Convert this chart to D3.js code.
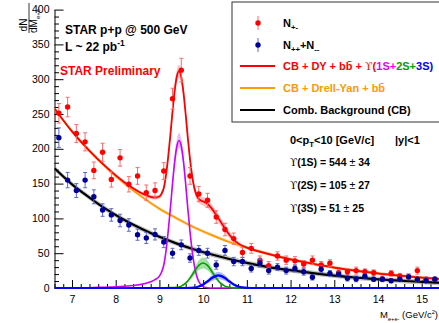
<!DOCTYPE html>
<html>
<head>
<meta charset="utf-8">
<script src="https://cdn.jsdelivr.net/npm/d3@7"></script>
<style>
body {margin:0; background:#fff;}
svg {display:block;}
svg text {font-family:"Liberation Sans", Arial, Helvetica, sans-serif; white-space:pre;}
</style>
</head>
<body>
<svg id="chart" width="439" height="323"></svg>
<script>
// dielectron invariant mass bins (GeV/c^2)
const massBins = [6.7, 6.9, 7.1, 7.3, 7.5, 7.7, 7.9, 8.1, 8.3, 8.5, 8.7, 8.9, 9.1, 9.3, 9.5, 9.7, 9.9, 10.1, 10.3, 10.5,
    10.7, 10.9, 11.1, 11.3, 11.5, 11.7, 11.9, 12.1, 12.3, 12.5, 12.7, 12.9, 13.1, 13.3, 13.5, 13.7, 13.9, 14.1, 14.3, 14.5,
    14.7, 14.9, 15.1, 15.3];
// unlike sign pairs N+-
const unlikeCounts = [251, 260, 222, 210, 169, 195, 156, 187, 149, 161, 137, 140, 168, 272, 313, 161, 135, 126, 102, 84,
    71, 51, 57, 40, 32, 46, 40, 39, 34.5, 40, 33, 35.5, 22, 23.4, 25, 23.4, 22, 13, 21, 17,
    16, 25, 12.5, 12.5];
const unlikeErr = [14, 14, 13, 13, 12, 13, 11, 12, 11, 12, 11, 11, 12, 15, 17, 12, 11, 10, 9, 9,
    8, 7, 7, 6, 6, 6, 6, 6, 5, 6, 5, 5, 4, 4, 5, 4, 4, 4, 4, 4,
    4, 5, 3, 3];
// like sign pairs N++ + N--
const likeCounts = [216, 155, 140, 155, 131, 112, 105, 97, 90.5, 76.6, 72, 77, 66, 50, 62, 43, 54, 50, 33, 54,
    38, 38, 28, 36, 25, 30, 25, 28, 23.4, 15.4, 27, 21, 20, 14, 13, 17, 12.5, 12.5, 10.5, 12.5,
    16, 12.5, 10.5, 12.5];
const likeErr = [14, 11, 10, 11, 10, 9, 9, 9, 9, 8, 8, 8, 8, 7, 7, 6, 7, 7, 6, 7,
    6, 6, 5, 6, 5, 5, 5, 5, 5, 4, 5, 4, 4, 4, 4, 4, 3, 3, 3, 3,
    4, 3, 3, 3];

// background fit curves
const bgMass = [6.6, 7.0, 7.4, 7.8, 8.2, 8.6, 9.0, 9.4, 9.8, 10.2, 10.6, 11.0, 11.4, 11.8, 12.2, 12.6, 13.0, 13.4, 13.8, 14.2,
    14.6, 15.0, 15.4];
const combBg = [172, 149, 130, 112.5, 97.6, 84.7, 73.5, 63.8, 55.4, 48.1, 41.7, 36, 31, 27, 24, 20.6, 17.8, 15.5, 13.4, 11.7,
    10.1, 8.8, 7.6];
const dyBg = [258, 225, 197, 172, 150, 131, 114, 100, 87, 76, 66, 58, 50.5, 44, 38.5, 33.6, 29.4, 25.6, 22.4, 19.5,
    17.1, 14.9, 13];

// full fit CB + DY + bb + Upsilons
const fitMass = [6.6, 7.0, 7.4, 7.8, 8.2, 8.6, 8.8, 8.9, 9.0, 9.05, 9.1, 9.15, 9.2, 9.25, 9.3, 9.35, 9.4, 9.45, 9.5, 9.55,
    9.6, 9.65, 9.7, 9.75, 9.8, 9.85, 9.9, 10.0, 10.1, 10.2, 10.3, 10.4, 10.5, 10.6, 10.7, 10.8, 11.0, 11.4, 11.8, 12.2,
    12.6, 13.0, 13.4, 13.8, 14.2, 14.6, 15.0, 15.4];
const fitTotal = [258, 225, 197, 173, 152, 136, 131, 130, 131.4, 135.5, 143.7, 161.8, 188, 219.4, 253.7, 284, 304.6, 311.6, 303, 281,
    250, 215.7, 185.2, 160.5, 143.3, 133.3, 128, 124.3, 120.7, 114, 105, 95.3, 85.5, 76.5, 69.3, 64.1, 58, 50.5, 44, 38.5,
    33.6, 29.4, 25.6, 22.4, 19.5, 17.1, 14.9, 13];
const fitBand = [2, 2, 2, 2, 2, 2, 3, 3, 3, 4, 4, 5, 6, 7, 8, 9, 9, 9, 9, 8,
    7, 7, 6, 6, 6, 6, 6, 6, 6, 6, 6, 6, 5, 5, 4, 3, 2, 2, 2, 2,
    2, 2, 2, 2, 2, 2, 2, 2];

// Upsilon states
const ups1Mass = [6.6, 7.1, 7.5, 8.0, 8.4, 8.8, 8.9, 9.0, 9.05, 9.1, 9.15, 9.2, 9.25, 9.3, 9.35, 9.4, 9.45, 9.5, 9.55, 9.6,
    9.65, 9.7, 9.75, 9.8, 9.85, 9.9, 9.95, 10.0, 10.1, 10.2, 15.4];
const ups1Yield = [0, 0, 0.7, 1.8, 3.5, 9, 12, 17, 23, 33, 53, 81, 114, 150, 182, 204, 212, 204, 182, 150,
    114, 81, 53, 32, 18, 9.3, 4.5, 2, 0.3, 0, 0];
const ups2Mass = [6.6, 8.9, 9.2, 9.4, 9.5, 9.6, 9.7, 9.8, 9.9, 10.0, 10.1, 10.2, 10.3, 10.4, 10.5, 10.6, 10.7, 10.8, 15.4];
const ups2Yield = [0, 0, 0.5, 1, 2.7, 6.9, 14.2, 23.8, 32.5, 36, 32.5, 23.8, 14.2, 6.9, 2.7, 0.9, 0.2, 0, 0];
const ups3Mass = [6.6, 9.6, 9.8, 9.9, 10.0, 10.1, 10.2, 10.3, 10.35, 10.4, 10.5, 10.6, 10.7, 10.8, 10.9, 11.0, 11.1, 15.4];
const ups3Yield = [0, 0, 0.6, 2.2, 5.1, 9.4, 14.3, 17.5, 18, 17.5, 14.3, 9.4, 5.1, 2.2, 0.8, 0.2, 0, 0];

const xTicks = [7, 8, 9, 10, 11, 12, 13, 14, 15];
const yTicks = [0, 50, 100, 150, 200, 250, 300, 350, 400];

const svg = d3.select('#chart');
const x = d3.scaleLinear().domain([6.6, 15.4]).range([54.5, 439.2]);
const y = d3.scaleLinear().domain([0, 400]).range([288, 9.6]);

// clip a bit below zero so the baseline keeps its full width
svg.append('defs').append('clipPath').attr('id', 'plotClip')
    .append('rect')
    .attr('x', x(6.6)).attr('y', y(400))
    .attr('width', x(15.4) - x(6.6)).attr('height', y(0) - y(400) + 2);

// text with sub / superscripts
function richText(sel, px, py, parts, opts) {
    const t = sel.append('text').attr('x', px).attr('y', py)
        .attr('font-size', opts.size)
        .attr('font-weight', opts.weight || 'normal')
        .attr('text-anchor', opts.anchor || 'start')
        .attr('fill', opts.fill || '#000');
    if (opts.transform) t.attr('transform', opts.transform);
    let shift = 0;
    parts.forEach(p => {
        const s = typeof p === 'string' ? {t: p} : p;
        const target = s.sub ? 0.3 : s.sup ? -0.4 : 0;
        const ts = t.append('tspan').attr('dy', (target - shift) * opts.size).text(s.t);
        shift = target;
        if (s.sub || s.sup) ts.attr('font-size', opts.size * (s.scale || 0.7));
        if (s.fill) ts.attr('fill', s.fill);
        if (s.family) ts.attr('font-family', s.family);
        if (s.weight) ts.attr('font-weight', s.weight);
        if (s.x !== undefined) ts.attr('x', s.x);
    });
    return t;
}

//Axes
const minorX = d3.range(66, 154, 2).map(v => v / 10).filter(v => v % 1 !== 0);
const minorY = d3.range(0, 401, 10).filter(v => v % 50 !== 0);

svg.append('g').attr('transform', `translate(0,${y(0)})`)
    .call(d3.axisBottom(x).tickValues(xTicks).tickSize(-8).tickSizeOuter(0).tickPadding(8).tickFormat(d3.format('d')));
svg.append('g').attr('transform', `translate(0,${y(0)})`)
    .call(d3.axisBottom(x).tickValues(minorX).tickSize(-4).tickSizeOuter(0).tickFormat(''))
    .select('.domain').remove();
svg.append('g').attr('transform', `translate(${x(6.6)},0)`)
    .call(d3.axisLeft(y).tickValues(yTicks).tickSize(-9).tickSizeOuter(0).tickFormat(''));
svg.append('g').attr('transform', `translate(${x(6.6)},0)`)
    .call(d3.axisLeft(y).tickValues(minorY).tickSize(-4.5).tickSizeOuter(0).tickFormat(''))
    .select('.domain').remove();
svg.selectAll('.tick text').attr('font-size', 10.5).attr('fill', '#000')
    .attr('font-family', '"Liberation Sans", Arial, sans-serif');
svg.selectAll('.tick line, .domain').attr('stroke', '#000');
// y tick labels
svg.append('g').selectAll('text').data(yTicks).enter().append('text')
    .attr('x', x(6.6) - 5).attr('y', d => y(d)).attr('dy', '0.35em')
    .attr('text-anchor', 'end').attr('font-size', 10.5).attr('fill', '#000')
    .text(d => d);

const plot = svg.append('g').attr('clip-path', 'url(#plotClip)');

function linePath(xs) {
    return d3.line().x((d, i) => x(xs[i])).y(d => y(d)).curve(d3.curveMonotoneX);
}
function bandPath(xs, half) {
    return d3.area().x((d, i) => x(xs[i]))
        .y0((d, i) => y(Math.max(0, d - half(d, i)))).y1((d, i) => y(d + half(d, i)))
        .curve(d3.curveMonotoneX);
}

//Bands
plot.append('path').attr('d', bandPath(bgMass, () => 3.5)(combBg)).attr('fill', '#999').attr('opacity', 0.6);
plot.append('path').attr('d', bandPath(bgMass, () => 2.5)(dyBg)).attr('fill', '#ffcc88').attr('opacity', 0.6);
plot.append('path').attr('d', bandPath(fitMass, (d, i) => fitBand[i])(fitTotal)).attr('fill', '#ff9a9a').attr('opacity', 0.6);
plot.append('path').attr('d', bandPath(ups1Mass, d => d * 0.05)(ups1Yield)).attr('fill', '#e29cff').attr('opacity', 0.7);
plot.append('path').attr('d', bandPath(ups2Mass, d => d * 0.22)(ups2Yield)).attr('fill', '#7fd07f').attr('opacity', 0.7);
plot.append('path').attr('d', bandPath(ups3Mass, d => d * 0.3)(ups3Yield)).attr('fill', '#8fa0ff').attr('opacity', 0.7);

//Curves
const curves = [
    {xs: bgMass, ys: combBg, color: '#000', w: 2.2},
    {xs: bgMass, ys: dyBg, color: '#ff9900', w: 1.7},
    {xs: fitMass, ys: fitTotal, color: '#ff0000', w: 1.8},
    {xs: ups1Mass, ys: ups1Yield, color: '#cc00ff', w: 1.6},
    {xs: ups2Mass, ys: ups2Yield, color: '#00a000', w: 1.6},
    {xs: ups3Mass, ys: ups3Yield, color: '#0000ff', w: 2.2}
];
curves.forEach(c => {
    plot.append('path').attr('d', linePath(c.xs)(c.ys))
        .attr('fill', 'none').attr('stroke', c.color).attr('stroke-width', c.w);
});

//Data points
function drawPoints(vals, errs, color, barColor) {
    const g = plot.append('g');
    const pts = g.selectAll('g').data(vals).enter().append('g');
    pts.append('line')
        .attr('x1', (d, i) => x(massBins[i])).attr('x2', (d, i) => x(massBins[i]))
        .attr('y1', (d, i) => y(d - errs[i])).attr('y2', (d, i) => y(d + errs[i]))
        .attr('stroke', barColor).attr('stroke-width', 1);
    [-1, 1].forEach(s => {
        pts.append('line')
            .attr('x1', (d, i) => x(massBins[i]) - 2).attr('x2', (d, i) => x(massBins[i]) + 2)
            .attr('y1', (d, i) => y(d + s * errs[i])).attr('y2', (d, i) => y(d + s * errs[i]))
            .attr('stroke', barColor).attr('stroke-width', 1);
    });
    pts.append('circle')
        .attr('cx', (d, i) => x(massBins[i])).attr('cy', d => y(d))
        .attr('r', 2.7).attr('fill', color);
}
drawPoints(unlikeCounts, unlikeErr, '#ff0000', '#ff6a6a');
drawPoints(likeCounts, likeErr, '#000099', '#5a6ad0');

//Texts
richText(svg, 65, 33.5, ['STAR p+p @ 500 GeV'], {size: 12, weight: 'bold'});
richText(svg, 65, 51, ['L ~ 22 pb', {t: '-1', sup: true}], {size: 12, weight: 'bold'});
richText(svg, 60, 75, ['STAR Preliminary'], {size: 12, weight: 'bold', fill: '#ff0000'});

const ups = {t: 'ϒ', family: '"DejaVu Serif", serif', weight: 'normal'};
const pm = {t: ' ± ', weight: 'normal'};
richText(svg, 290, 143.5, ['0<p', {t: 'T', sub: true}, '<10 [GeV/c]', {t: '|y|<1', x: 395}], {size: 11, weight: 'bold'});
richText(svg, 290, 166, [ups, '(1S) = 544', pm, '34'], {size: 10.5, weight: 'bold'});
richText(svg, 290, 189, [ups, '(2S) = 105', pm, '27'], {size: 10.5, weight: 'bold'});
richText(svg, 290, 212, [ups, '(3S) = 51', pm, '25'], {size: 10.5, weight: 'bold'});

// axis titles
richText(svg, 438, 318, ['M', {t: 'e+e-', sub: true, scale: 0.6}, ' (GeV/c', {t: '2', sup: true, scale: 0.6}, ')'], {size: 9.5, anchor: 'end'});
richText(svg, -25, 27, ['dN'], {size: 10, anchor: 'middle', transform: 'rotate(-90)'});
svg.append('line').attr('x1', 29).attr('x2', 29).attr('y1', 3).attr('y2', 33).attr('stroke', '#000').attr('stroke-width', 0.8);
richText(svg, -33, 36.5, ['dM', {t: 'e+e-', sub: true, scale: 0.6}], {size: 10, transform: 'rotate(-90)'});

//Legend
const legend = svg.append('g');
legend.append('rect').attr('x', 232).attr('y', 2).attr('width', 215).attr('height', 120)
    .attr('fill', '#fff').attr('stroke', '#333').attr('stroke-width', 1);
const legendRows = [23, 45, 66, 88, 110];
[['#ff0000', '#ff6a6a'], ['#000099', '#5a6ad0']].forEach((c, i) => {
    legend.append('line').attr('x1', 258).attr('x2', 258)
        .attr('y1', legendRows[i] - 7).attr('y2', legendRows[i] + 7).attr('stroke', c[1]);
    legend.append('circle').attr('cx', 258).attr('cy', legendRows[i]).attr('r', 2.7).attr('fill', c[0]);
});
[['#ff0000', 2], ['#ff9900', 3], ['#000', 4]].forEach(c => {
    legend.append('line').attr('x1', 240).attr('x2', 275)
        .attr('y1', legendRows[c[1]]).attr('y2', legendRows[c[1]])
        .attr('stroke', c[0]).attr('stroke-width', 2);
});
const lopt = {size: 11, weight: 'bold'};
richText(legend, 283, legendRows[0] + 4, ['N', {t: '+-', sub: true}], lopt);
richText(legend, 283, legendRows[1] + 4, ['N', {t: '++', sub: true}, '+N', {t: '--', sub: true}], lopt);
richText(legend, 283, legendRows[2] + 4, ['CB + DY + bb\u0304 + ', {t: 'ϒ', family: '"DejaVu Serif", serif', weight: 'normal'}, '(',
    {t: '1S+', fill: '#ee00ee'}, {t: '2S+', fill: '#00a000'}, {t: '3S', fill: '#0000ff'}, {t: ')', fill: '#0000ff'}],
    Object.assign({fill: '#ff0000'}, lopt));
richText(legend, 283, legendRows[3] + 4, ['CB + Drell-Yan + bb\u0304'], Object.assign({fill: '#ff9900'}, lopt));
richText(legend, 283, legendRows[4] + 4, ['Comb. Background (CB)'], lopt);
</script>
</body>
</html>
